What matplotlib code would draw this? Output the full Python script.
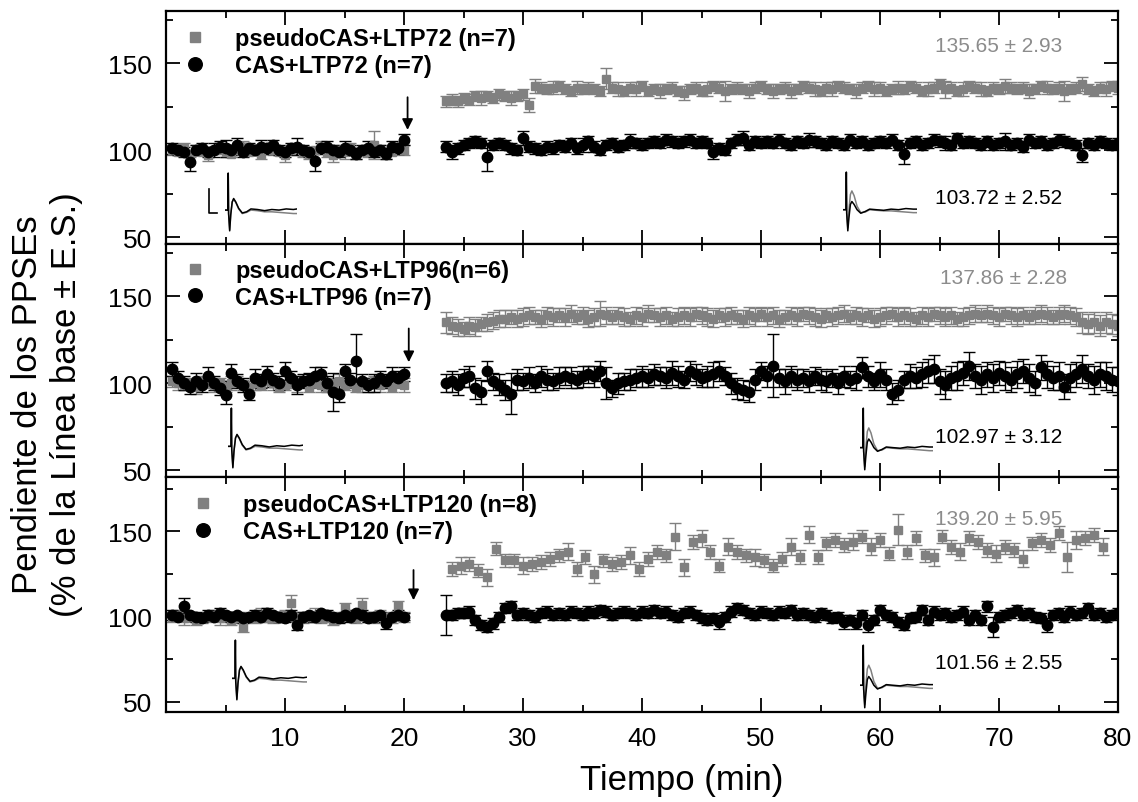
import numpy as np
import matplotlib
matplotlib.use("Agg")
import matplotlib.pyplot as plt
from matplotlib.lines import Line2D

plt.rcParams['font.family'] = ['Liberation Sans', 'DejaVu Sans']

# tiempos (min)
t_base = np.arange(0.5, 20.01, 0.5)        # linea base, 40 puntos
t_post = np.arange(23.5, 80.01, 0.5)       # post-tetanizacion, 114 puntos
t_post_sparse = np.arange(24.0, 78.76, 0.75)  # pseudoCAS+LTP120, 74 puntos

# ---- LTP72 ----
g1_base = [100, 99, 101, 98, 100, 99, 97, 100, 101, 99,
           98, 100, 102, 99, 100, 98, 101, 100, 99, 97,
           100, 101, 99, 98, 100, 102, 99, 97, 100, 99,
           101, 98, 100, 99, 103, 100, 98, 99, 101, 100]
g1_base_err = [3, 2, 3, 2, 3, 2, 3, 2, 3, 3,
               2, 3, 3, 2, 3, 3, 2, 3, 2, 4,
               3, 2, 3, 3, 2, 3, 3, 4, 3, 4,
               3, 3, 2, 3, 8, 3, 3, 2, 3, 3]
b1_base = [101, 100, 99, 93, 100, 101, 99, 100, 102, 101,
           100, 103, 99, 101, 100, 102, 101, 103, 100, 99,
           101, 102, 100, 99, 94, 101, 102, 100, 99, 101,
           100, 98, 100, 101, 99, 100, 98, 102, 101, 106]
b1_base_err = [3, 3, 3, 5, 3, 3, 3, 4, 3, 5,
               3, 4, 3, 3, 3, 4, 3, 3, 3, 3,
               3, 5, 3, 3, 6, 3, 3, 3, 3, 4,
               3, 3, 3, 4, 3, 3, 3, 3, 3, 3]
g1_post = [128, 129, 128, 130, 129, 131, 130, 131, 130, 132,
           131, 130, 131, 132, 126, 137, 136, 135, 136, 137,
           135, 134, 136, 135, 136, 135, 134, 141, 136, 135,
           134, 136, 135, 137, 134, 135, 134, 135, 136, 134,
           133, 135, 136, 134, 135, 137, 136, 134, 135, 136,
           135, 134, 136, 137, 135, 134, 135, 136, 134, 135,
           137, 136, 135, 134, 136, 135, 137, 136, 135, 134,
           136, 137, 135, 136, 134, 135, 136, 135, 137, 136,
           134, 135, 136, 138, 135, 136, 134, 135, 137, 136,
           135, 134, 136, 135, 137, 136, 135, 136, 134, 135,
           137, 136, 135, 136, 134, 135, 136, 138, 135, 134,
           136, 135, 137, 136]
g1_post_err = [3, 3, 3, 3, 3, 3, 4, 3, 3, 3,
               3, 4, 3, 3, 4, 4, 3, 3, 4, 3,
               3, 3, 4, 3, 3, 3, 3, 6, 3, 4,
               3, 3, 4, 3, 3, 3, 4, 3, 3, 3,
               4, 3, 3, 3, 4, 3, 3, 6, 3, 3,
               3, 4, 3, 3, 3, 4, 3, 3, 4, 3,
               3, 3, 4, 3, 3, 4, 3, 3, 3, 4,
               3, 3, 4, 3, 3, 3, 4, 3, 3, 3,
               3, 4, 3, 3, 5, 3, 3, 4, 3, 3,
               4, 3, 3, 3, 4, 3, 3, 3, 4, 3,
               3, 4, 3, 3, 6, 3, 3, 4, 3, 3,
               3, 4, 3, 4]
b1_post = [102, 99, 101, 103, 104, 105, 104, 96, 103, 104,
           103, 101, 100, 107, 102, 101, 100, 102, 101, 103,
           102, 104, 101, 103, 105, 102, 100, 103, 104, 102,
           103, 105, 104, 103, 104, 105, 104, 106, 105, 104,
           105, 106, 104, 105, 104, 99, 101, 100, 104, 106,
           107, 103, 105, 104, 105, 104, 106, 104, 103, 105,
           104, 106, 105, 104, 103, 105, 104, 103, 106, 104,
           105, 103, 104, 105, 104, 106, 103, 98, 104, 105,
           103, 104, 106, 105, 104, 103, 107, 104, 105, 104,
           103, 105, 103, 104, 105, 103, 104, 102, 106, 104,
           105, 103, 104, 106, 105, 104, 103, 97, 104, 103,
           105, 104, 103, 104]
b1_post_err = [3, 4, 3, 3, 3, 3, 3, 8, 3, 3,
               3, 3, 3, 4, 3, 3, 3, 3, 3, 3,
               3, 3, 3, 4, 3, 3, 3, 3, 3, 3,
               3, 4, 3, 3, 3, 3, 3, 3, 3, 3,
               3, 3, 3, 3, 3, 4, 3, 3, 3, 3,
               4, 3, 3, 3, 3, 3, 3, 3, 3, 3,
               3, 4, 3, 3, 3, 3, 3, 3, 3, 3,
               3, 3, 3, 3, 3, 3, 3, 6, 3, 3,
               3, 3, 3, 3, 4, 3, 3, 3, 3, 3,
               3, 3, 3, 3, 5, 3, 3, 3, 3, 3,
               3, 3, 3, 3, 3, 3, 3, 4, 3, 3,
               3, 3, 3, 3]

# ---- LTP96 ----
g2_base = [101, 100, 99, 100, 98, 101, 100, 99, 100, 98,
           100, 101, 99, 98, 100, 99, 101, 100, 98, 99,
           100, 99, 101, 98, 100, 99, 98, 100, 101, 99,
           100, 98, 99, 100, 101, 99, 100, 98, 100, 99]
g2_base_err = [3, 4, 3, 3, 4, 3, 3, 4, 3, 3,
               4, 3, 3, 3, 4, 3, 3, 4, 3, 3,
               3, 4, 3, 3, 3, 4, 3, 3, 4, 3,
               3, 3, 4, 3, 3, 4, 3, 3, 3, 4]
b2_base = [108, 103, 100, 98, 101, 99, 104, 100, 97, 93,
           106, 101, 99, 94, 103, 101, 105, 102, 100, 107,
           103, 99, 101, 102, 104, 105, 100, 95, 94, 107,
           102, 113, 101, 99, 100, 103, 101, 104, 103, 105]
b2_base_err = [4, 4, 4, 4, 5, 4, 5, 4, 4, 5,
               5, 4, 4, 4, 5, 4, 5, 4, 4, 5,
               4, 5, 4, 4, 5, 4, 4, 11, 5, 4,
               4, 15, 4, 4, 5, 4, 4, 5, 4, 4]
g2_post = [135, 133, 132, 131, 133, 132, 134, 135, 136, 137,
           137, 138, 137, 138, 139, 138, 137, 139, 138, 139,
           138, 140, 138, 139, 137, 138, 140, 139, 138, 139,
           138, 137, 139, 138, 140, 139, 138, 139, 137, 138,
           139, 138, 140, 139, 138, 137, 139, 138, 139, 138,
           137, 139, 138, 140, 138, 139, 137, 138, 139, 138,
           140, 139, 138, 137, 139, 138, 139, 140, 138, 139,
           138, 139, 137, 138, 139, 140, 138, 139, 138, 137,
           139, 138, 140, 139, 138, 139, 137, 138, 139, 140,
           139, 140, 139, 138, 140, 139, 138, 139, 138, 139,
           140, 139, 138, 139, 140, 139, 138, 135, 134, 135,
           133, 135, 134, 133]
g2_post_err = [6, 5, 5, 4, 5, 5, 4, 5, 5, 5,
               5, 4, 5, 5, 5, 4, 5, 5, 5, 4,
               5, 5, 4, 5, 5, 5, 7, 5, 4, 5,
               5, 4, 5, 5, 5, 4, 5, 5, 4, 5,
               5, 5, 4, 5, 5, 5, 4, 5, 5, 4,
               5, 5, 5, 4, 5, 5, 5, 4, 5, 5,
               4, 5, 5, 5, 4, 5, 5, 5, 4, 5,
               5, 4, 5, 5, 5, 4, 5, 5, 5, 4,
               5, 5, 4, 5, 5, 5, 4, 5, 5, 5,
               4, 5, 5, 5, 4, 5, 5, 5, 4, 5,
               5, 5, 4, 5, 5, 5, 5, 6, 6, 6,
               6, 6, 6, 6]
b2_post = [100, 101, 99, 103, 104, 97, 95, 107, 101, 99,
           96, 94, 102, 101, 103, 100, 104, 102, 101, 103,
           104, 103, 102, 104, 105, 104, 107, 100, 97, 100,
           101, 102, 103, 104, 103, 105, 104, 103, 106, 104,
           102, 107, 105, 103, 104, 105, 107, 104, 100, 97,
           96, 95, 102, 107, 104, 110, 103, 101, 104, 102,
           103, 101, 104, 102, 101, 103, 100, 104, 102, 103,
           109, 104, 101, 105, 102, 94, 96, 102, 104, 103,
           105, 107, 108, 101, 99, 103, 104, 106, 110, 104,
           102, 105, 103, 106, 104, 102, 105, 107, 103, 100,
           109, 105, 103, 104, 98, 103, 105, 108, 104, 102,
           105, 104, 102, 101]
b2_post_err = [5, 6, 6, 5, 6, 6, 7, 6, 5, 6,
               6, 12, 6, 5, 6, 5, 6, 6, 5, 6,
               5, 6, 5, 6, 5, 6, 6, 9, 5, 6,
               5, 6, 5, 6, 5, 6, 5, 6, 7, 6,
               5, 6, 6, 5, 6, 7, 6, 5, 6, 6,
               6, 6, 6, 5, 6, 18, 5, 7, 6, 6,
               5, 6, 5, 6, 6, 5, 6, 6, 5, 7,
               6, 6, 5, 7, 6, 6, 6, 5, 7, 6,
               7, 7, 8, 7, 8, 7, 8, 7, 8, 7,
               8, 7, 8, 7, 8, 7, 8, 7, 8, 7,
               7, 8, 7, 8, 7, 8, 7, 8, 7, 8,
               7, 8, 7, 8]

# ---- LTP120 ----
g3_base = [100, 101, 99, 100, 98, 99, 100, 101, 99, 100,
           98, 99, 94, 100, 99, 101, 100, 99, 100, 101,
           108, 100, 99, 100, 101, 99, 100, 98, 100, 105,
           101, 99, 107, 100, 99, 101, 100, 99, 106, 100]
g3_base_err = [3, 3, 4, 3, 3, 3, 3, 3, 4, 3,
               3, 3, 3, 3, 3, 4, 3, 3, 3, 3,
               5, 3, 3, 3, 4, 3, 3, 3, 3, 3,
               3, 3, 4, 3, 3, 3, 3, 3, 3, 3]
b3_base = [101, 100, 106, 101, 100, 99, 101, 100, 102, 101,
           100, 101, 99, 100, 101, 100, 102, 101, 100, 99,
           101, 95, 100, 101, 100, 102, 101, 100, 99, 101,
           100, 102, 101, 99, 100, 101, 96, 100, 101, 100]
b3_base_err = [3, 2, 5, 2, 3, 2, 3, 2, 3, 2,
               3, 2, 3, 2, 3, 2, 3, 2, 3, 2,
               3, 3, 3, 2, 3, 2, 3, 2, 3, 2,
               3, 2, 3, 2, 3, 2, 3, 2, 3, 2]
g3_post = [128, 130, 131, 127, 123, 140, 133, 133, 130, 131,
           132, 134, 136, 138, 128, 135, 125, 133, 131, 132,
           136, 128, 134, 138, 136, 147, 129, 144, 146, 138,
           130, 141, 138, 136, 135, 133, 130, 134, 141, 135,
           148, 135, 143, 145, 142, 144, 147, 141, 145, 137,
           151, 138, 146, 136, 135, 147, 141, 138, 146, 144,
           139, 137, 141, 139, 134, 143, 145, 142, 149, 135,
           145, 146, 148, 141]
g3_post_err = [4, 5, 4, 4, 5, 4, 4, 4, 5, 4,
               4, 4, 4, 5, 4, 4, 5, 4, 4, 4,
               5, 4, 4, 4, 4, 8, 5, 4, 5, 4,
               4, 5, 4, 4, 5, 4, 4, 4, 5, 4,
               5, 4, 4, 4, 4, 5, 4, 5, 4, 4,
               9, 4, 4, 4, 5, 4, 4, 5, 4, 4,
               4, 5, 4, 4, 5, 4, 4, 4, 4, 9,
               5, 4, 4, 5]
b3_post = [101, 101, 102, 102, 103, 98, 95, 94, 96, 100,
           105, 106, 101, 102, 101, 100, 102, 103, 101, 102,
           101, 103, 102, 101, 103, 102, 104, 103, 101, 102,
           103, 102, 101, 103, 102, 104, 102, 103, 101, 100,
           102, 103, 101, 99, 98, 99, 97, 100, 103, 105,
           104, 102, 101, 103, 102, 101, 103, 102, 104, 101,
           102, 101, 100, 102, 101, 99, 100, 97, 98, 96,
           101, 95, 98, 104, 101, 100, 97, 95, 99, 100,
           104, 98, 103, 101, 102, 100, 101, 103, 98, 101,
           98, 106, 94, 100, 101, 102, 104, 101, 102, 100,
           99, 95, 101, 102, 100, 103, 101, 102, 105, 101,
           102, 100, 101, 102]
b3_post_err = [12, 3, 3, 3, 3, 3, 3, 3, 3, 3,
               3, 3, 3, 3, 3, 3, 3, 3, 3, 3,
               3, 3, 3, 3, 3, 3, 3, 3, 3, 3,
               3, 3, 3, 3, 3, 3, 3, 3, 3, 3,
               3, 3, 3, 3, 3, 3, 4, 3, 3, 3,
               3, 3, 3, 3, 3, 3, 3, 3, 3, 3,
               3, 3, 3, 3, 3, 3, 3, 4, 3, 3,
               3, 4, 3, 3, 3, 3, 3, 3, 3, 3,
               3, 3, 3, 3, 3, 3, 3, 3, 3, 3,
               3, 3, 6, 3, 3, 3, 3, 3, 3, 3,
               3, 4, 3, 3, 3, 3, 3, 3, 3, 3,
               3, 3, 3, 3]

labels_gray = ['pseudoCAS+LTP72 (n=7)', 'pseudoCAS+LTP96(n=6)', 'pseudoCAS+LTP120 (n=8)']
labels_black = ['CAS+LTP72 (n=7)', 'CAS+LTP96 (n=7)', 'CAS+LTP120 (n=7)']
means_gray = ['135.65 ± 2.93', '137.86 ± 2.28', '139.20 ± 5.95']
means_black = ['103.72 ± 2.52', '102.97 ± 3.12', '101.56 ± 2.55']

# registros de PPSE representativos (normalizados)
trace_t = [0, 0.04, 0.045, 0.05, 0.065, 0.08, 0.1, 0.12, 0.15, 0.19,
           0.24, 0.3, 0.36, 0.45, 0.55, 0.65, 0.75, 0.85, 0.95, 1.0]
trace_base_black = [0.36, 0.36, 1.0, 0.3, 0.0, 0.28, 0.5, 0.56, 0.5, 0.39,
                    0.31, 0.33, 0.38, 0.37, 0.35, 0.37, 0.36, 0.38, 0.37, 0.38]
trace_base_gray = [0.36, 0.36, 1.0, 0.3, 0.02, 0.3, 0.5, 0.55, 0.49, 0.38,
                   0.3, 0.32, 0.36, 0.35, 0.33, 0.33, 0.32, 0.31, 0.3, 0.3]
trace_post_black = [0.36, 0.36, 1.0, 0.3, 0.0, 0.22, 0.45, 0.5, 0.45, 0.36,
                    0.3, 0.33, 0.37, 0.36, 0.35, 0.37, 0.36, 0.38, 0.37, 0.37]
trace_post_gray = [0.36, 0.36, 1.0, 0.3, 0.05, 0.35, 0.62, 0.68, 0.6, 0.42,
                   0.31, 0.32, 0.36, 0.35, 0.34, 0.34, 0.33, 0.32, 0.31, 0.31]

gray = '#808080'
W, H = 1138, 803


def fbox(x0, y0, x1, y1):
    # caja en pixeles -> fraccion de figura
    return [x0 / W, 1 - y1 / H, (x1 - x0) / W, (y1 - y0) / H]


panel_px = [(166, 12, 1118, 245), (166, 245, 1118, 478), (166, 478, 1118, 713)]
panel_ylim = [(46, 180), (46, 180), (44, 182)]
legend_anchor = [(0.018, 0.93), (0.018, 0.935), (0.026, 0.93)]
gray_text_pos = [(64.6, 160), (65.0, 160.6), (64.6, 157.5)]
black_text_pos = [(64.6, 73), (64.6, 69.2), (64.6, 73.3)]
arrow_x = [20.3, 20.4, 20.8]
arrow_top = [132, 133, 129]
arrow_tip = [110, 110.4, 108]
inset_base_px = [(225, 173, 297, 233), (228, 408, 303, 470), (232, 640, 307, 702)]
inset_post_px = [(843, 172, 917, 233), (860, 408, 933, 472), (860, 645, 933, 710)]

series = [
    (g1_base, g1_base_err, b1_base, b1_base_err, g1_post, g1_post_err, b1_post, b1_post_err, t_post),
    (g2_base, g2_base_err, b2_base, b2_base_err, g2_post, g2_post_err, b2_post, b2_post_err, t_post),
    (g3_base, g3_base_err, b3_base, b3_base_err, g3_post, g3_post_err, b3_post, b3_post_err, t_post_sparse),
]

fig = plt.figure(figsize=(W / 100, H / 100), dpi=100)

for i, (gb, gbe, bb, bbe, gp, gpe, bp, bpe, tg) in enumerate(series):
    ax = fig.add_axes(fbox(*panel_px[i]))
    gkw = dict(fmt='s', color=gray, ecolor=gray, ms=6, capsize=4.5, elinewidth=1, capthick=1)
    bkw = dict(fmt='o', color='k', ecolor='k', ms=7.5, capsize=4.5, elinewidth=1, capthick=1)
    hg = ax.errorbar(t_base, gb, yerr=gbe, **gkw)
    ax.errorbar(tg, gp, yerr=gpe, **gkw)
    hb = ax.errorbar(t_base, bb, yerr=bbe, **bkw)
    ax.errorbar(t_post, bp, yerr=bpe, **bkw)

    ax.set_xlim(0, 80)
    ax.set_ylim(*panel_ylim[i])
    ax.set_xticks(range(10, 81, 10))
    ax.set_xticks(range(5, 80, 10), minor=True)
    ax.set_yticks([50, 100, 150])
    ax.set_yticks([75, 125, 175], minor=True)
    ax.tick_params(which='both', direction='in', top=True, right=True, labelsize=19, pad=10)
    ax.tick_params(which='major', length=10, width=1.3)
    ax.tick_params(which='minor', length=5, width=1.3)
    if i < 2:
        ax.tick_params(labelbottom=False)
    for s in ax.spines.values():
        s.set_linewidth(1.6)

    ax.legend([hg[0], hb[0]], [labels_gray[i], labels_black[i]], loc='upper left',
              bbox_to_anchor=legend_anchor[i], frameon=False, prop=dict(weight='bold', size=17),
              handlelength=1.0, handletextpad=1.2, labelspacing=0.15, borderpad=0,
              borderaxespad=0, markerscale=1.3, numpoints=1)

    ax.text(*gray_text_pos[i], means_gray[i], color='#8c8c8c', fontsize=15, va='center', ha='left')
    ax.text(*black_text_pos[i], means_black[i], color='k', fontsize=15, va='center', ha='left')

    ax.annotate('', xy=(arrow_x[i], arrow_tip[i]), xytext=(arrow_x[i], arrow_top[i]),
                arrowprops=dict(arrowstyle='-|>', color='k', lw=1.3, mutation_scale=16))

    ins = fig.add_axes(fbox(*inset_base_px[i]))
    ins.plot(trace_t, trace_base_gray, color=gray, lw=1.1)
    ins.plot(trace_t, trace_base_black, color='k', lw=1.1)
    ins.set_xlim(0, 1)
    ins.set_ylim(-0.02, 1.02)
    ins.axis('off')

    ins = fig.add_axes(fbox(*inset_post_px[i]))
    ins.plot(trace_t, trace_post_gray, color=gray, lw=1.1)
    ins.plot(trace_t, trace_post_black, color='k', lw=1.1)
    ins.set_xlim(0, 1)
    ins.set_ylim(-0.02, 1.02)
    ins.axis('off')

# barra de calibracion
fig.add_artist(Line2D([209 / W, 209 / W, 217 / W], [1 - 190 / H, 1 - 214 / H, 1 - 214 / H],
                      color='k', lw=1.2))

fig.text(682 / W, 1 - 781 / H, 'Tiempo (min)', fontsize=25, ha='center', va='center')
fig.text(47 / W, 1 - 405 / H, 'Pendiente de los PPSEs\n(% de la Línea base ± E.S.)',
         fontsize=25, rotation=90, ha='center', va='center', multialignment='center')

fig.savefig('out.png', dpi=100)
